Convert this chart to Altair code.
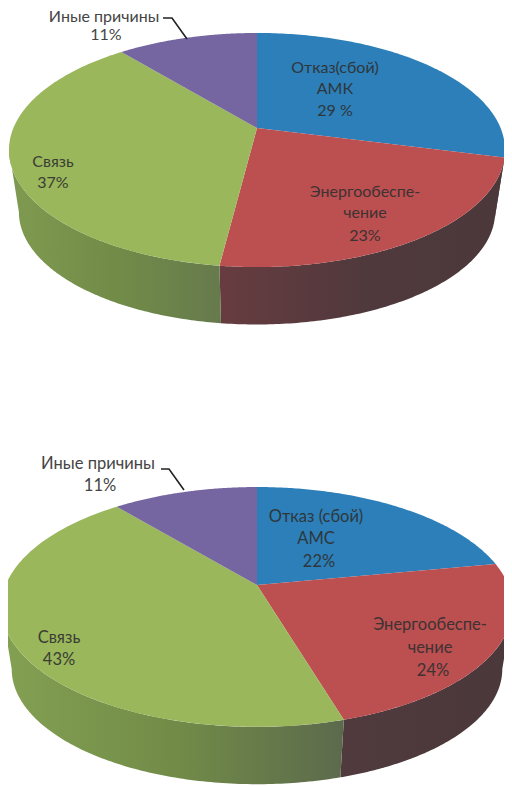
import math
import altair as alt
import pandas as pd

# --- values ---
categories = ["Отказ", "Энергообеспечение", "Связь", "Иные причины"]
values_top = [29, 23, 37, 11]
values_bottom = [22, 23.4, 43.6, 11]
colors = ["#2C7FB8", "#BC4F50", "#9AB75C", "#7565A0"]

# wall shading per slice: left-to-right colour stops
wall_top = {0: ["#4A4043", "#4A4043"],
            1: ["#673C40", "#50393C", "#4B383B"],
            2: ["#7F9A50", "#728C48", "#667A4C"],
            3: ["#7565A0", "#7565A0"]}
wall_bottom = {0: ["#4A4043", "#4A4043"],
               1: ["#503A3D", "#4D393C", "#4B383B"],
               2: ["#83A052", "#728C48", "#5C6A4C"],
               3: ["#7565A0", "#7565A0"]}

# pie geometry: centre x, centre y, half width term, half height term, tilt, depth offset, lower-rim scale
pie_top = dict(cx=257, cy=128, R=243.6, S=112.9, k=0.188, dy=63, s=0.96)
pie_bottom = dict(cx=257, cy=585, R=251.2, S=115.9, k=0.183, dy=63, s=0.96)

labels_top = [("Иные причины", 104, 17), ("11%", 106, 35),
              ("Отказ(сбой)", 335, 68), ("АМК", 335, 89), ("29 %", 335, 111),
              ("Энергообеспе-", 365, 192), ("чение", 365, 213), ("23%", 365, 236),
              ("Связь", 53, 162), ("37%", 53, 183)]
labels_bottom = [("Иные причины", 98, 464), ("11%", 100, 486),
                 ("Отказ (сбой)", 316, 517), ("АМС", 316, 539), ("22%", 319, 562),
                 ("Энергообеспе-", 430, 625), ("чение", 430, 648), ("24%", 433, 671),
                 ("Связь", 59, 638), ("43%", 59, 660)]
leader_top = [(163, 18), (172, 18), (187, 39)]
leader_bottom = [(161, 469), (169, 469), (184, 490)]

X = alt.X("x:Q", scale=alt.Scale(domain=[8, 504]), axis=None)
Y = alt.Y("y:Q", scale=alt.Scale(domain=[8, 786], reverse=True), axis=None)


def project(p, a, lower=False):
    """Perspective view of the point at clockwise angle a on the pie's rim."""
    u, v = math.sin(a), math.cos(a)
    w = 1 + p["k"] * v
    s = p["s"] if lower else 1.0
    dy = p["dy"] if lower else 0.0
    return p["cx"] + s * p["R"] * u / w, p["cy"] + dy - s * p["S"] * v / w


def polygon_layer(points, fill):
    df = pd.DataFrame([{"x": x, "y": y, "i": i} for i, (x, y) in enumerate(points)])
    return alt.Chart(df).mark_line(fill=fill, stroke=None, strokeWidth=0, clip=True).encode(
        x=X, y=Y, order=alt.Order("i:Q"))


def pie_layers(p, values, walls, labels, leader, font_size):
    total = sum(values)
    layers, tops = [], []
    start = 0.0
    tan_r = math.pi - math.acos(p["k"])   # rim angle of the right-hand silhouette
    tan_l = 2 * math.pi - tan_r           # left-hand silhouette
    for idx, val in enumerate(values):
        a0 = start / total * 2 * math.pi
        a1 = (start + val) / total * 2 * math.pi
        start += val
        n = 120
        rim = [project(p, a0 + (a1 - a0) * j / n) for j in range(n + 1)]
        tops.append(polygon_layer([(p["cx"], p["cy"])] + rim, colors[idx]))
        b0, b1 = max(a0, tan_r), min(a1, tan_l)
        if b1 > b0:
            rng = [b0 + (b1 - b0) * j / n for j in range(n + 1)]
            pts = [project(p, a) for a in rng] + [project(p, a, True) for a in reversed(rng)]
            stops = walls[idx]
            grad = alt.Gradient(
                gradient="linear", x1=0, x2=1, y1=0, y2=0,
                stops=[alt.GradientStop(offset=i / (len(stops) - 1), color=c)
                       for i, c in enumerate(stops)])
            layers.append(polygon_layer(pts, grad))
    layers += tops
    ldf = pd.DataFrame([{"x": x, "y": y, "i": i} for i, (x, y) in enumerate(leader)])
    layers.append(alt.Chart(ldf).mark_line(color="#222222", strokeWidth=1.6).encode(
        x=X, y=Y, order=alt.Order("i:Q")))
    tdf = pd.DataFrame(labels, columns=["t", "x", "y"])
    layers.append(alt.Chart(tdf).mark_text(
        font="Lato", fontSize=font_size, color="#303030", opacity=0.9,
        align="center", baseline="middle").encode(x=X, y=Y, text="t:N"))
    return layers


all_layers = (pie_layers(pie_top, values_top, wall_top, labels_top, leader_top, 16)
              + pie_layers(pie_bottom, values_bottom, wall_bottom, labels_bottom, leader_bottom, 16.5))

chart = alt.layer(*all_layers).properties(
    width=496, height=778, padding=0,
    autosize=alt.AutoSizeParams(type="none"),
    background="white",
).configure_view(stroke=None)

chart.save("out.html", embed_options={"renderer": "svg", "actions": False})
